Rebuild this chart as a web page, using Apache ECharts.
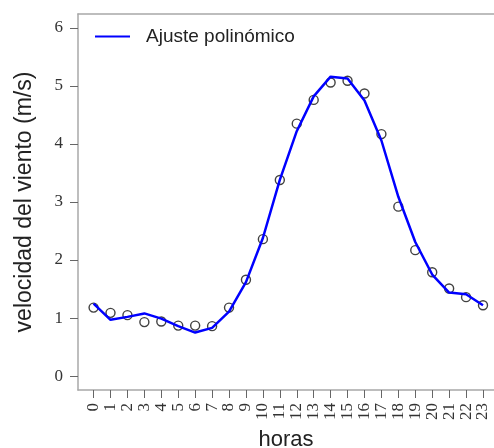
<!DOCTYPE html>
<html>
<head>
<meta charset="utf-8">
<script src="https://cdn.jsdelivr.net/npm/echarts@6/dist/echarts.min.js"></script>
<style>
  html, body { margin: 0; padding: 0; background: #fff; }
  #chart { width: 494px; height: 448px; }
</style>
</head>
<body>
<div id="chart"></div>
<script>
// Hour of day (0..23)
const horas = [0, 1, 2, 3, 4, 5, 6, 7, 8, 9, 10, 11, 12, 13, 14, 15, 16, 17, 18, 19, 20, 21, 22, 23];
// Observed hourly mean wind speed (m/s)
const velocidadObservada = [1.18, 1.09, 1.05, 0.93, 0.94, 0.87, 0.87, 0.86, 1.18, 1.66, 2.36, 3.38, 4.35, 4.76, 5.06, 5.09, 4.87, 4.17, 2.92, 2.17, 1.79, 1.51, 1.36, 1.22];
// Polynomial fit evaluated at each hour
const velocidadAjuste = [1.25, 0.97, 1.02, 1.08, 0.99, 0.86, 0.75, 0.83, 1.11, 1.62, 2.38, 3.38, 4.22, 4.82, 5.16, 5.13, 4.75, 4.06, 3.09, 2.31, 1.75, 1.44, 1.41, 1.22];
// Axis tick labels
const yTicks = [0, 1, 2, 3, 4, 5, 6];
const xTicks = horas.slice();

const chart = echarts.init(document.getElementById('chart'), null, { renderer: 'canvas' });

const boxColor = '#a8a8a8';
const tickColor = '#666';
const serif = '"Liberation Serif", "DejaVu Serif", serif';
const sans = '"Liberation Sans", Arial, sans-serif';

// x range runs a little past the right edge of the canvas
const xMin = -0.92, xMax = 23.65;
const yMin = -0.24, yMax = 6.24;

chart.setOption({
  animation: false,
  backgroundColor: '#ffffff',
  grid: { left: 78, top: 14, right: 0, bottom: 58, show: false, containLabel: false, outerBoundsMode: 'none' },
  legend: {
    data: [{ name: 'Ajuste polinómico', icon: 'rect' }],
    left: 90, top: 22,
    itemWidth: 35, itemHeight: 2,
    textStyle: { fontFamily: sans, fontSize: 19, color: '#222', padding: [0, 0, 0, 11] }
  },
  xAxis: [
    {
      type: 'value',
      min: xMin, max: xMax,
      name: 'horas',
      nameLocation: 'middle',
      nameGap: 39,
      nameTextStyle: { fontFamily: sans, fontSize: 22, color: '#222' },
      splitLine: { show: false },
      axisLine: { show: true, onZero: false, lineStyle: { color: boxColor, width: 1.5 } },
      axisTick: { show: true, length: 8, customValues: xTicks, lineStyle: { color: tickColor, width: 1 } },
      axisLabel: {
        customValues: xTicks, rotate: 90, margin: 13,
        fontFamily: serif, fontSize: 17, color: '#333'
      }
    },
    {
      // top edge of the plot frame
      type: 'value',
      position: 'top',
      min: xMin, max: xMax,
      splitLine: { show: false },
      axisLine: { show: true, onZero: false, lineStyle: { color: boxColor, width: 1.5 } },
      axisTick: { show: false },
      axisLabel: { show: false }
    }
  ],
  yAxis: {
    type: 'value',
    min: yMin, max: yMax,
    name: 'velocidad del viento (m/s)',
    nameLocation: 'middle',
    nameGap: 42,
    nameTextStyle: { fontFamily: sans, fontSize: 23, color: '#222' },
    splitLine: { show: false },
    axisLine: { show: true, onZero: false, lineStyle: { color: boxColor, width: 1.5 } },
    axisTick: { show: true, length: 8, customValues: yTicks, lineStyle: { color: tickColor, width: 1 } },
    axisLabel: {
      customValues: yTicks, margin: 15,
      fontFamily: serif, fontSize: 17, color: '#333'
    }
  },
  series: [
    {
      name: 'Observado',
      type: 'scatter',
      data: horas.map((h, i) => [h, velocidadObservada[i]]),
      symbol: 'circle',
      symbolSize: 9,
      itemStyle: { color: 'transparent', borderColor: '#111', borderWidth: 1.4 },
      z: 2
    },
    {
      name: 'Ajuste polinómico',
      type: 'line',
      data: horas.map((h, i) => [h, velocidadAjuste[i]]),
      symbol: 'none',
      lineStyle: { color: '#0000ff', width: 2.5 },
      itemStyle: { color: '#0000ff' },
      z: 3
    }
  ]
});
</script>
</body>
</html>
